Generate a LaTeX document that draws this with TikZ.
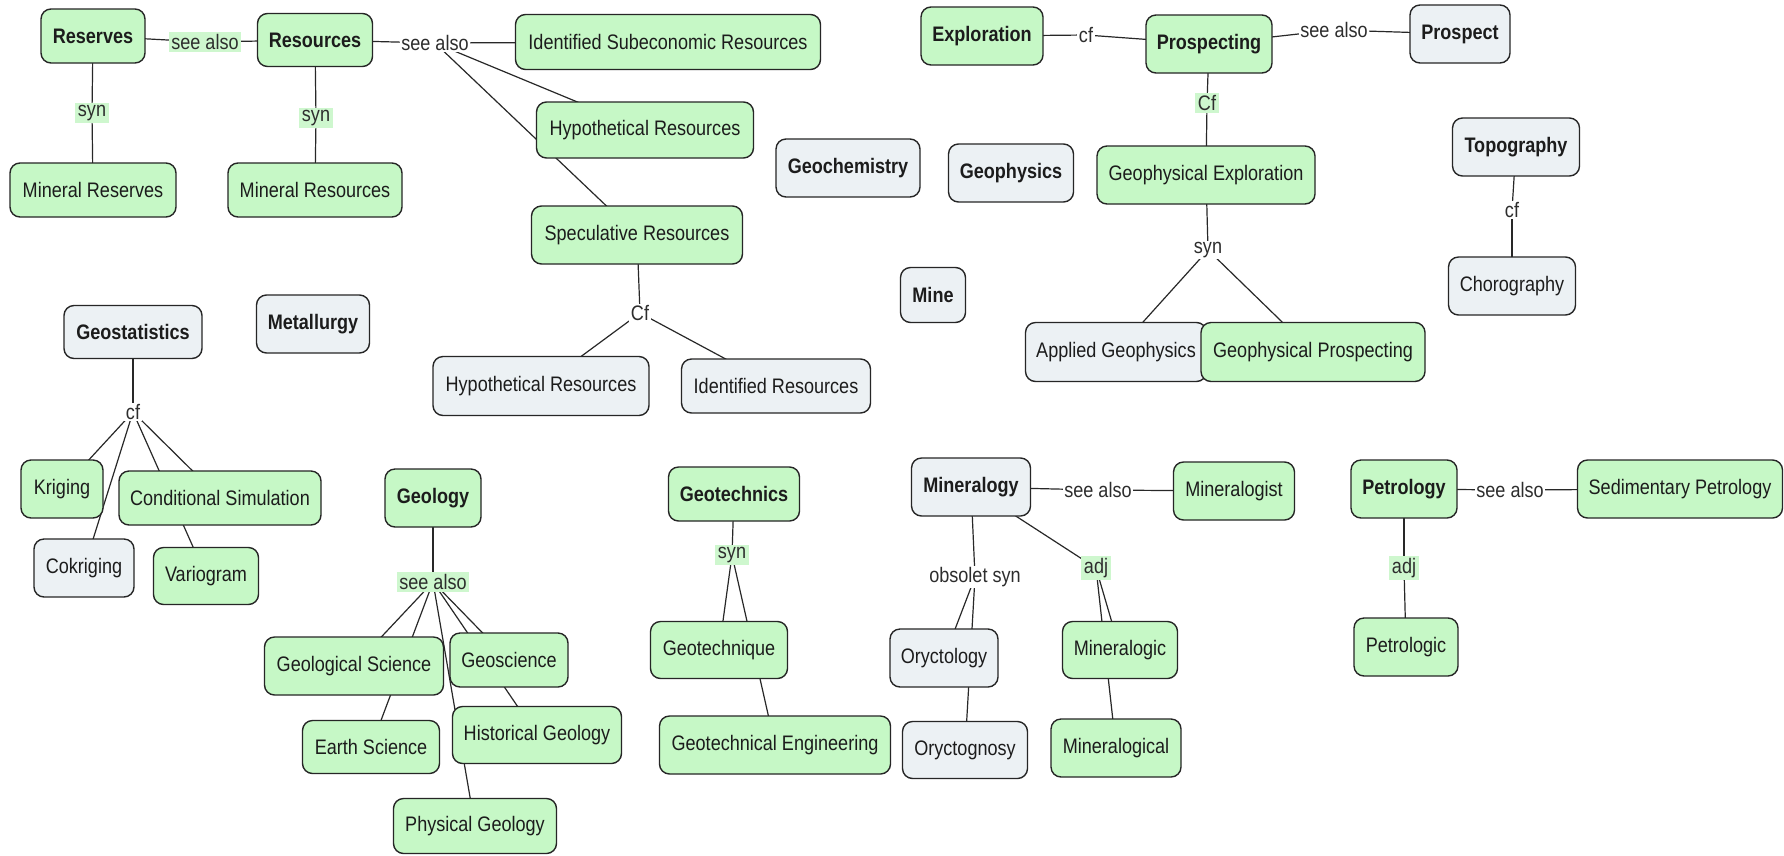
\documentclass[tikz,border=0pt]{standalone}
\usepackage{fontspec}
\setmainfont{Liberation Sans}[FakeStretch=0.86]
\newcommand\mapfont{\fontsize{21pt}{24pt}\selectfont}
\definecolor{cgreen}{RGB}{198,248,198}
\definecolor{lgreen}{RGB}{206,247,206}
\definecolor{cgray}{RGB}{236,241,244}
\definecolor{bordercol}{RGB}{38,38,38}
\definecolor{txtcol}{RGB}{28,28,28}
\definecolor{labcol}{RGB}{45,45,45}
\definecolor{linecol}{RGB}{40,40,40}
\pgfdeclarelayer{edges}
\pgfsetlayers{edges,main}
\tikzset{
  concept/.style={draw=bordercol, line width=1.4pt, rounded corners=10pt,
    text=txtcol, align=center, inner sep=0pt},
  cg/.style={concept, fill=cgreen},
  cb/.style={concept, fill=cgray},
  bf/.style={font=\mapfont\bfseries},
  lab/.style={fill=white, text=labcol, inner xsep=1.5pt, inner ysep=1pt},
  labg/.style={lab, fill=lgreen, inner xsep=2.5pt, inner ysep=2pt},
  link/.style={draw=linecol, line width=1.2pt},
}
\newcommand\joinall[2]{\foreach \t in {#2}{\draw[link] (#1.center) -- (\t.center);}}
\begin{document}
\begin{tikzpicture}[x=1pt, y=-1pt, font=\mapfont]
\useasboundingbox (0,0) rectangle (1784,855);

% ---- concepts ----
\node[cg, bf, minimum width=104pt, minimum height=54pt] (res) at (93,36) {Reserves};
\node[cg, bf, minimum width=115pt, minimum height=53pt] (rsc) at (315,40) {Resources};
\node[cg, minimum width=305pt, minimum height=55pt] (isr) at (668,42) {Identified Subeconomic Resources};
\node[cg, minimum width=217pt, minimum height=56pt] (hypa) at (645,130) {Hypothetical Resources};
\node[cg, minimum width=211pt, minimum height=58pt] (spec) at (637,235) {Speculative Resources};
\node[cg, minimum width=166pt, minimum height=54pt] (minres) at (93,190) {Mineral Reserves};
\node[cg, minimum width=174pt, minimum height=54pt] (minrsc) at (315,190) {Mineral Resources};
\node[cb, bf, minimum width=144pt, minimum height=58pt] (geochem) at (848,168) {Geochemistry};
\node[cb, bf, minimum width=125pt, minimum height=58pt] (geophys) at (1011,173) {Geophysics};
\node[cg, bf, minimum width=122pt, minimum height=58pt] (explo) at (982,36) {Exploration};
\node[cg, bf, minimum width=126pt, minimum height=58pt] (prosp) at (1209,44) {Prospecting};
\node[cb, bf, minimum width=100pt, minimum height=58pt] (prospect) at (1460,34) {Prospect};
\node[cg, minimum width=218pt, minimum height=58pt] (gpe) at (1206,175) {Geophysical Exploration};
\node[cb, minimum width=181pt, minimum height=59pt] (apg) at (1116,352) {Applied Geophysics};
\node[cg, minimum width=224pt, minimum height=59pt] (gpp) at (1313,352) {Geophysical Prospecting};
\node[cb, bf, minimum width=127pt, minimum height=58pt] (topo) at (1516,147) {Topography};
\node[cb, minimum width=127pt, minimum height=58pt] (choro) at (1512,286) {Chorography};
\node[cb, bf, minimum width=65pt, minimum height=55pt] (mine) at (933,295) {Mine};
\node[cb, bf, minimum width=138pt, minimum height=53pt] (geostat) at (133,332) {Geostatistics};
\node[cb, bf, minimum width=113pt, minimum height=58pt] (metal) at (313,324) {Metallurgy};
\node[cb, minimum width=216pt, minimum height=59pt] (hypb) at (541,386) {Hypothetical Resources};
\node[cb, minimum width=189pt, minimum height=54pt] (idr) at (776,386) {Identified Resources};
\node[cg, minimum width=82pt, minimum height=58pt] (krig) at (62,489) {Kriging};
\node[cg, minimum width=202pt, minimum height=54pt] (condsim) at (220,498) {Conditional Simulation};
\node[cb, minimum width=100pt, minimum height=58pt] (cokrig) at (84,568) {Cokriging};
\node[cg, minimum width=105pt, minimum height=57pt] (vario) at (206,576) {Variogram};
\node[cg, bf, minimum width=96pt, minimum height=58pt] (geology) at (433,498) {Geology};
\node[cg, minimum width=179pt, minimum height=58pt] (geolsci) at (354,666) {Geological Science};
\node[cg, minimum width=118pt, minimum height=54pt] (geosci) at (509,660) {Geoscience};
\node[cg, minimum width=137pt, minimum height=53pt] (earth) at (371,747) {Earth Science};
\node[cg, minimum width=169pt, minimum height=57pt] (histgeo) at (537,735) {Historical Geology};
\node[cg, minimum width=163pt, minimum height=55pt] (physgeo) at (475,826) {Physical Geology};
\node[cg, bf, minimum width=131pt, minimum height=54pt] (geotech) at (734,494) {Geotechnics};
\node[cg, minimum width=137pt, minimum height=57pt] (geotq) at (719,650) {Geotechnique};
\node[cg, minimum width=231pt, minimum height=58pt] (geoteng) at (775,745) {Geotechnical Engineering};
\node[cb, bf, minimum width=119pt, minimum height=58pt] (minlgy) at (971,487) {Mineralogy};
\node[cb, minimum width=108pt, minimum height=58pt] (oryctol) at (944,658) {Oryctology};
\node[cb, minimum width=125pt, minimum height=57pt] (oryctog) at (965,750) {Oryctognosy};
\node[cg, minimum width=121pt, minimum height=58pt] (minlgst) at (1234,491) {Mineralogist};
\node[cg, minimum width=115pt, minimum height=57pt] (minlgc) at (1120,650) {Mineralogic};
\node[cg, minimum width=130pt, minimum height=58pt] (minlgcl) at (1116,748) {Mineralogical};
\node[cg, bf, minimum width=106pt, minimum height=58pt] (petro) at (1404,489) {Petrology};
\node[cg, minimum width=205pt, minimum height=58pt] (sedpet) at (1680,489) {Sedimentary Petrology};
\node[cg, minimum width=104pt, minimum height=58pt] (petlgc) at (1406,647) {Petrologic};

% ---- linking phrases ----
\node[labg] (la) at (205,42) {see also};
\node[lab]  (lb) at (435,43) {see also};
\node[labg] (lc) at (92,113) {syn};
\node[labg] (ld) at (316,118) {syn};
\node[lab]  (le) at (640,313) {Cf};
\node[lab]  (lf) at (1086,35) {cf};
\node[lab]  (lg) at (1334,30) {see also};
\node[labg] (lh) at (1207,103) {Cf};
\node[lab]  (li) at (1208,250) {syn};
\node[lab]  (lj) at (1512,210) {cf};
\node[lab]  (lk) at (133,412) {cf};
\node[labg] (ll) at (433,582) {see also};
\node[labg] (lm) at (732,555) {syn};
\node[lab]  (ln) at (1098,490) {see also};
\node[lab]  (lo) at (975,577) {obsolet syn};
\node[labg] (lp) at (1096,568) {adj};
\node[lab]  (lq) at (1510,490) {see also};
\node[labg] (lr) at (1404,568) {adj};

% ---- connectors (drawn underneath the boxes) ----
\begin{pgfonlayer}{edges}
  \fill[white] (0,0) rectangle (1784,855);
  \joinall{la}{res,rsc}
  \joinall{lb}{rsc,isr,hypa,spec}
  \joinall{lc}{res,minres}
  \joinall{ld}{rsc,minrsc}
  \joinall{le}{spec,hypb,idr}
  \joinall{lf}{explo,prosp}
  \joinall{lg}{prosp,prospect}
  \joinall{lh}{prosp,gpe}
  \joinall{li}{gpe,apg,gpp}
  \joinall{lj}{topo,choro}
  \joinall{lk}{geostat,krig,cokrig,condsim,vario}
  \joinall{ll}{geology,geolsci,earth,physgeo,histgeo,geosci}
  \joinall{lm}{geotech,geotq,geoteng}
  \joinall{ln}{minlgy,minlgst}
  \joinall{lo}{minlgy,oryctol,oryctog}
  \joinall{lp}{minlgy,minlgc,minlgcl}
  \joinall{lq}{petro,sedpet}
  \joinall{lr}{petro,petlgc}
\end{pgfonlayer}
\end{tikzpicture}
\end{document}
